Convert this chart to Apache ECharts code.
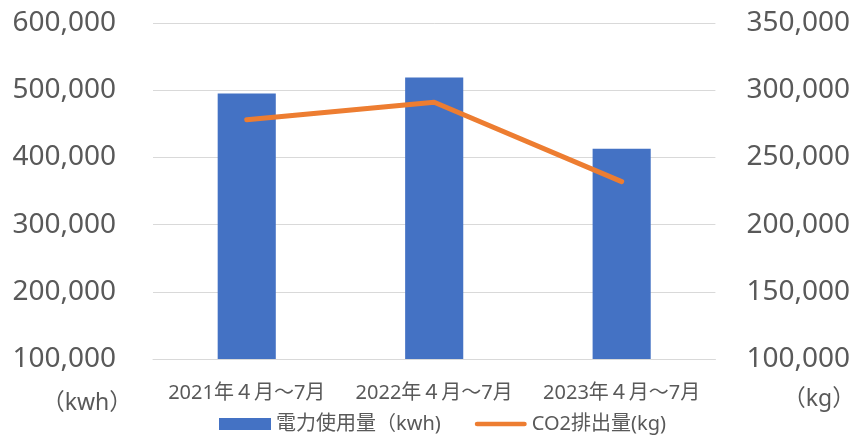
<!DOCTYPE html>
<html>
<head>
<meta charset="utf-8">
<script src="https://cdn.jsdelivr.net/npm/echarts@6/dist/echarts.min.js"></script>
<style>
html,body{margin:0;padding:0;background:#fff;}
#chart{width:853px;height:435px;}
</style>
</head>
<body>
<div id="chart"></div>
<script>
var categories = ['2021年４月～7月', '2022年４月～7月', '2023年４月～7月'];
var powerName = '電力使用量（kwh)';
var co2Name = 'CO2排出量(kg)';
var powerValues = [495000, 519000, 413000];
var co2Values = [278000, 291000, 232000];
var leftTicks = {min: 100000, max: 600000, interval: 100000};
var rightTicks = {min: 100000, max: 350000, interval: 50000};
var leftUnit = '（kwh）';
var rightUnit = '（kg）';

var FONT = "'Noto Sans', 'Noto Sans CJK JP', sans-serif";
var TXT = '#595959';
function fmt(v){ return Number(v).toLocaleString('en-US'); }

var chart = echarts.init(document.getElementById('chart'), null, {renderer: 'canvas'});
chart.setOption({
  animation: false,
  backgroundColor: '#fff',
  textStyle: {fontFamily: FONT},
  grid: {left: 153, right: 136, top: 23, height: 336},
  xAxis: {
    type: 'category',
    data: categories,
    axisLine: {show: true, lineStyle: {color: '#d9d9d9', width: 1}},
    axisTick: {show: false},
    axisLabel: {color: TXT, fontSize: 20, fontFamily: FONT, margin: 24, interval: 0}
  },
  yAxis: [
    {
      type: 'value', position: 'left',
      min: leftTicks.min, max: leftTicks.max, interval: leftTicks.interval,
      axisLine: {show: false}, axisTick: {show: false},
      axisLabel: {color: TXT, fontSize: 28, fontFamily: FONT, margin: 37, formatter: fmt},
      splitLine: {lineStyle: {color: '#d9d9d9', width: 1}}
    },
    {
      type: 'value', position: 'right',
      min: rightTicks.min, max: rightTicks.max, interval: rightTicks.interval,
      axisLine: {show: false}, axisTick: {show: false},
      axisLabel: {color: TXT, fontSize: 28, fontFamily: FONT, margin: 31, formatter: fmt},
      splitLine: {show: false}
    }
  ],
  legend: {
    left: 219, top: 413, padding: 0,
    itemWidth: 52, itemHeight: 12, itemGap: 34,
    textStyle: {color: TXT, fontSize: 20, fontFamily: FONT, lineHeight: 22},
    data: [
      {name: powerName, icon: 'rect'},
      {name: co2Name, icon: 'path://M2.5,0 L52.5,0 A2.5,2.5 0 0 1 52.5,5 L2.5,5 A2.5,2.5 0 0 1 2.5,0 Z'}
    ]
  },
  graphic: [
    {type: 'text', x: 87, y: 403, style: {text: leftUnit, fill: TXT, font: '23px ' + FONT, align: 'center', verticalAlign: 'middle'}},
    {type: 'text', x: 819, y: 399, style: {text: rightUnit, fill: TXT, font: '23px ' + FONT, align: 'center', verticalAlign: 'middle'}}
  ],
  series: [
    {
      name: powerName, type: 'bar', yAxisIndex: 0,
      data: powerValues, barWidth: '31%',
      itemStyle: {color: '#4472C4'}
    },
    {
      name: co2Name, type: 'line', yAxisIndex: 1,
      data: co2Values, symbol: 'none',
      lineStyle: {color: '#ED7D31', width: 5, cap: 'round', join: 'round'},
      itemStyle: {color: '#ED7D31'}
    }
  ]
});
</script>
</body>
</html>
